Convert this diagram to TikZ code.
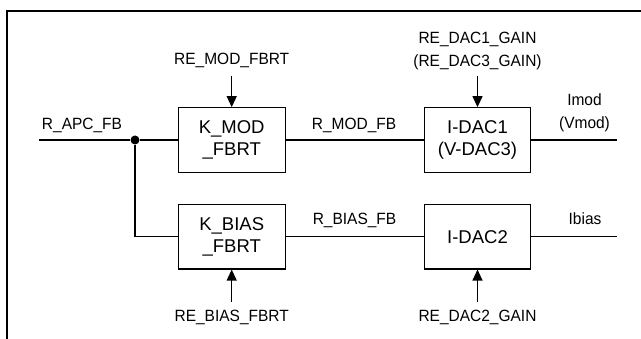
\documentclass[tikz,border=0pt]{standalone}
\usepackage{fontspec}
\setmainfont{Liberation Sans}
\newfontfamily\narrowsans{Liberation Sans}[FakeStretch=0.95]
\usetikzlibrary{arrows.meta}
\begin{document}
\begin{tikzpicture}[x=1pt,y=-1pt,
  wire/.style={line width=1.1pt},
  blk/.style={draw,line width=1.1pt,minimum width=106.7pt,minimum height=64.6pt,
    inner sep=0pt,align=center,font=\fontsize{18.5}{22.5}\selectfont},
  lbl/.style={inner sep=0pt,anchor=base,align=center,
    font=\narrowsans\fontsize{16.3}{23.5}\selectfont},
  feed/.style={wire,-{Triangle[width=10pt,length=11pt]}},
  frame/.style={line width=1.8pt}]
\useasboundingbox (0,0) rectangle (641,339);

% outer frame (left and top edges)
\draw[frame] (7,339) -- (7,11) -- (641,11);

% function blocks
\node[blk] (kmod)  at (231.7,140)   {K\_MOD\\\_FBRT};
\node[blk] (kbias) at (231.7,236.7) {K\_BIAS\\\_FBRT};
\node[blk] (dac1)  at (477.5,140)   {I-DAC1\\(V-DAC3)};
\node[blk] (dac2)  at (477.5,236.7) {I-DAC2};

% junction and free line ends
\node[circle,fill,inner sep=0pt,minimum size=9pt] (j) at (135,140) {};
\coordinate (in)    at (39,140);
\coordinate (omod)  at (617,140);
\coordinate (obias) at (617,236.7);
\coordinate (cmod)  at (231.7,76);
\coordinate (cbias) at (231.7,302);
\coordinate (cdac1) at (477.5,76);
\coordinate (cdac2) at (477.5,302);

% signal paths
\draw[wire] (in) -- (j) -- (kmod);
\draw[wire] (j) |- (kbias);
\draw[wire] (kmod) -- (dac1);
\draw[wire] (kbias) -- (dac2);
\draw[wire] (dac1) -- (omod);
\draw[wire] (dac2) -- (obias);

% register control inputs
\draw[feed] (cmod)  -- (kmod.north);
\draw[feed] (cbias) -- (kbias.south);
\draw[feed] (cdac1) -- (dac1.north);
\draw[feed] (cdac2) -- (dac2.south);

% labels (base anchor = baseline of the last line)
\node[lbl] (lapc)    at (82,130)    {R\_APC\_FB};
\node[lbl] (lremod)  at (231.7,65)  {RE\_MOD\_FBRT};
\node[lbl] (lrebias) at (231.7,322) {RE\_BIAS\_FBRT};
\node[lbl] (lmodfb)  at (354,129.5) {R\_MOD\_FB};
\node[lbl] (lbiasfb) at (354.5,225) {R\_BIAS\_FB};
\node[lbl] (lgain1)  at (477.5,67)  {RE\_DAC1\_GAIN\\(RE\_DAC3\_GAIN)};
\node[lbl] (lgain2)  at (477.5,322) {RE\_DAC2\_GAIN};
\node[lbl] (limod)   at (584.5,129) {Imod\\(Vmod)};
\node[lbl] (libias)  at (585,225)   {Ibias};
\end{tikzpicture}
\end{document}
